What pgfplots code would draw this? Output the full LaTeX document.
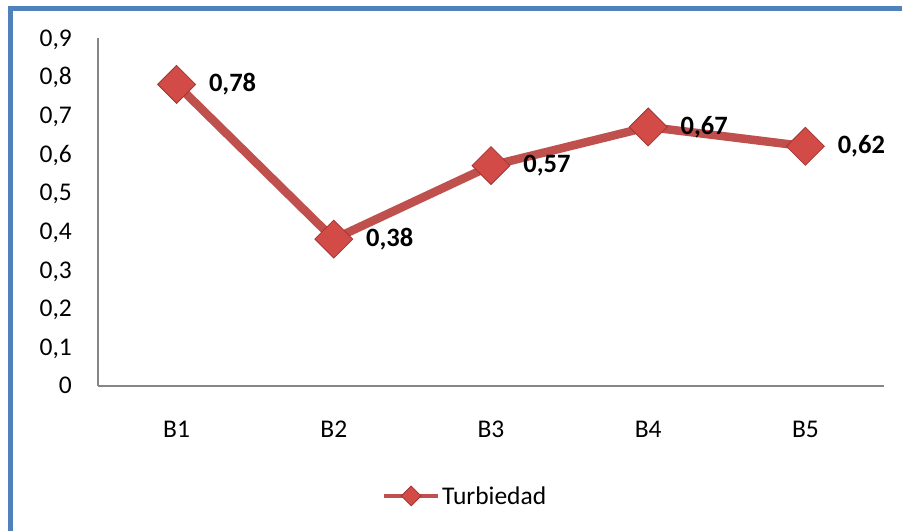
\documentclass[border=0pt]{standalone}
\usepackage{fontspec}
\setmainfont{Carlito}
\usepackage{pgfplots}
\pgfplotsset{compat=1.18}
\definecolor{serie}{HTML}{C0504D}
\definecolor{marca}{HTML}{D24B47}
\definecolor{marcaborde}{HTML}{A33532}
\definecolor{marco}{HTML}{4F81BD}
\definecolor{eje}{HTML}{868686}
\newcommand\lbl{\fontsize{25.5bp}{29bp}\selectfont}
\newcommand\dlbl{\fontsize{26.5bp}{30bp}\selectfont\bfseries}

\begin{document}
\begin{tikzpicture}
\useasboundingbox (0,0) rectangle (902bp,531bp);
\fill[white] (0,0) rectangle (902bp,531bp);
\draw[marco, line width=4.7bp] (10.3bp,0) -- (10.3bp,522.7bp) -- (902bp,522.7bp);
\begin{axis}[
  at={(98bp,145bp)}, anchor=south west,
  scale only axis, width=786bp, height=348bp,
  xmin=-0.5, xmax=4.5, ymin=0, ymax=0.9,
  clip=false,
  axis lines*=left,
  axis line style={eje, line width=1.3bp, -},
  major tick length=0pt,
  xtick=data,
  xticklabels={B1,B2,B3,B4,B5},
  ytick={0,0.1,...,0.9},
  /pgf/number format/assume math mode=true,
  /pgf/number format/.cd, use comma, fixed, precision=1, /pgfplots/.cd,
  tick label style={font=\lbl, text=black, inner sep=0pt},
  xticklabel style={anchor=base, yshift=-51bp},
  yticklabel style={anchor=base east, xshift=-26bp, yshift=-8bp},
  nodes near coords={\pgfmathprintnumber[fixed,fixed zerofill,precision=2,use comma]{\pgfplotspointmeta}},
  every node near coord/.append style={anchor=west, inner sep=0pt, xshift=32bp, font=\dlbl, text=black},
  legend style={draw=none, fill=none, at={(0.3613,-0.316)}, anchor=west,
    inner sep=0pt, font=\lbl, nodes={inner sep=2bp}},
  legend image code/.code={
    \draw[mark repeat=2, mark phase=2, #1, line width=4bp, mark size=7bp]
      plot coordinates {(0bp,0bp) (27bp,0bp) (54bp,0bp)};
  },
]
\addplot[serie, line width=8.5bp, mark=square*, mark size=13.4bp,
  mark options={rotate=45, fill=marca, draw=marcaborde, line width=0.8bp}]
  coordinates {(0,0.78) (1,0.38) (2,0.57) (3,0.67) (4,0.62)};
\addlegendentry{Turbiedad}
\end{axis}
\end{tikzpicture}
\end{document}
